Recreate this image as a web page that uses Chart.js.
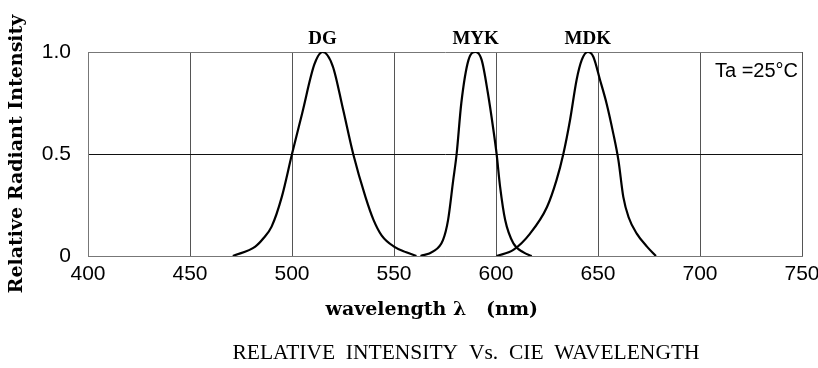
<!DOCTYPE html>
<html><head><meta charset="utf-8">
<script src="https://cdn.jsdelivr.net/npm/chart.js@4/dist/chart.umd.min.js"></script>
<style>html,body{margin:0;padding:0;background:#fff}</style>
</head><body>
<canvas id="c" width="818" height="368"></canvas>
<script>
// ---- data ----
const dgWavelength  = [471, 482, 486, 490, 495, 500, 505, 511, 515, 520, 525, 530, 536, 540, 544, 550, 556, 561];
const dgIntensity   = [0, 0.046, 0.087, 0.144, 0.29, 0.50, 0.70, 0.94, 1.0, 0.93, 0.72, 0.50, 0.29, 0.176, 0.10, 0.046, 0.018, 0];
const mykWavelength = [563, 569, 574, 576.5, 579, 580.7, 583, 586.5, 590, 593, 596, 598.7, 600.3, 602, 604.5, 608.5, 613.5, 617.5];
const mykIntensity  = [0, 0.021, 0.078, 0.176, 0.37, 0.50, 0.75, 0.96, 1.0, 0.96, 0.80, 0.62, 0.50, 0.34, 0.176, 0.062, 0.018, 0];
const mdkWavelength = [600.3, 608.5, 616.7, 625, 629.7, 633, 636.3, 639.5, 642, 645, 647.7, 651, 654.2, 657.5, 660, 662.4, 665, 669, 674, 678.4];
const mdkIntensity  = [0, 0.03, 0.11, 0.24, 0.373, 0.50, 0.667, 0.863, 0.96, 1.0, 0.977, 0.863, 0.748, 0.60, 0.47, 0.29, 0.19, 0.11, 0.046, 0];
const seriesNames   = ['DG', 'MYK', 'MDK'];
const xTicks        = [400, 450, 500, 550, 600, 650, 700, 750];
const yTicks        = [0, 0.5, 1.0];
const yTickLabels   = ['0', '0.5', '1.0'];
const xAxisTitle    = 'wavelength λ   (nm)    ';
const yAxisTitle    = 'Relative Radiant Intensity';
const caption       = 'RELATIVE  INTENSITY  Vs.  CIE  WAVELENGTH';
const conditionNote = 'Ta =25°C';

const toPoints = (xs, ys) => xs.map((x, i) => ({x: x, y: ys[i]}));

const annot = {
  id: 'annot',
  afterDraw(chart) {
    const {ctx, chartArea} = chart;
    const xs = chart.scales.x, ys = chart.scales.y;
    ctx.save();
    ctx.fillStyle = '#000';
    ctx.textAlign = 'center';
    ctx.textBaseline = 'alphabetic';
    ctx.font = 'bold 19px "Liberation Serif"';
    chart.data.datasets.forEach(ds => {
      const peak = ds.data.reduce((a, b) => (b.y > a.y ? b : a));
      ctx.fillText(ds.label, xs.getPixelForValue(peak.x), ys.getPixelForValue(peak.y) - 8.5);
    });
    ctx.textAlign = 'right';
    ctx.font = '20px "Liberation Sans"';
    ctx.fillText(conditionNote, chartArea.right - 4, chartArea.top + 25);
    ctx.textAlign = 'center';
    ctx.textBaseline = 'middle';
    ctx.font = '21.5px "Liberation Serif"';
    ctx.fillText(caption, (chartArea.left + chartArea.right) / 2 + 21, 353);
    ctx.restore();
  }
};

new Chart(document.getElementById('c'), {
  type: 'line',
  data: {
    datasets: [
      {label: seriesNames[0], data: toPoints(dgWavelength, dgIntensity)},
      {label: seriesNames[1], data: toPoints(mykWavelength, mykIntensity)},
      {label: seriesNames[2], data: toPoints(mdkWavelength, mdkIntensity)}
    ]
  },
  options: {
    responsive: false,
    animation: false,
    devicePixelRatio: 1,
    layout: {padding: {top: 52, right: 16, left: 0, bottom: 0}},
    elements: {
      line: {borderColor: '#000', borderWidth: 2.2, cubicInterpolationMode: 'monotone', fill: false},
      point: {radius: 0}
    },
    plugins: {legend: {display: false}, tooltip: {enabled: false}, title: {display: false}},
    scales: {
      x: {
        type: 'linear', min: 400, max: 750,
        afterBuildTicks: s => { s.ticks = xTicks.map(v => ({value: v})); },
        afterFit: s => { s.height = 112; s.paddingLeft = 0; s.paddingRight = 0; },
        grid: {color: '#555', lineWidth: 1, drawTicks: false},
        border: {color: '#777'},
        ticks: {padding: 6, color: '#000', font: {family: 'Liberation Sans', size: 21}, maxRotation: 0,
                callback: v => String(v)},
        title: {display: true, text: xAxisTitle, color: '#000',
                font: {family: 'DejaVu Serif', size: 19, weight: 'bold'}, padding: {top: 0, bottom: 47}}
      },
      y: {
        min: 0, max: 1,
        afterBuildTicks: s => { s.ticks = yTicks.map(v => ({value: v})); },
        afterFit: s => { s.width = 88; s.paddingTop = 0; s.paddingBottom = 0; },
        grid: {color: ctx => (ctx.tick && ctx.tick.value === 0.5 ? '#111' : '#777'), lineWidth: 1, drawTicks: false},
        border: {color: '#777'},
        ticks: {padding: 17, color: '#000', font: {family: 'Liberation Sans', size: 21},
                callback: v => yTickLabels[yTicks.indexOf(v)]},
        title: {display: true, text: yAxisTitle, color: '#000',
                font: {family: 'DejaVu Serif', size: 19, weight: 'bold'}, padding: {top: 6, bottom: 0}}
      }
    }
  },
  plugins: [annot]
});
</script>
</body></html>
